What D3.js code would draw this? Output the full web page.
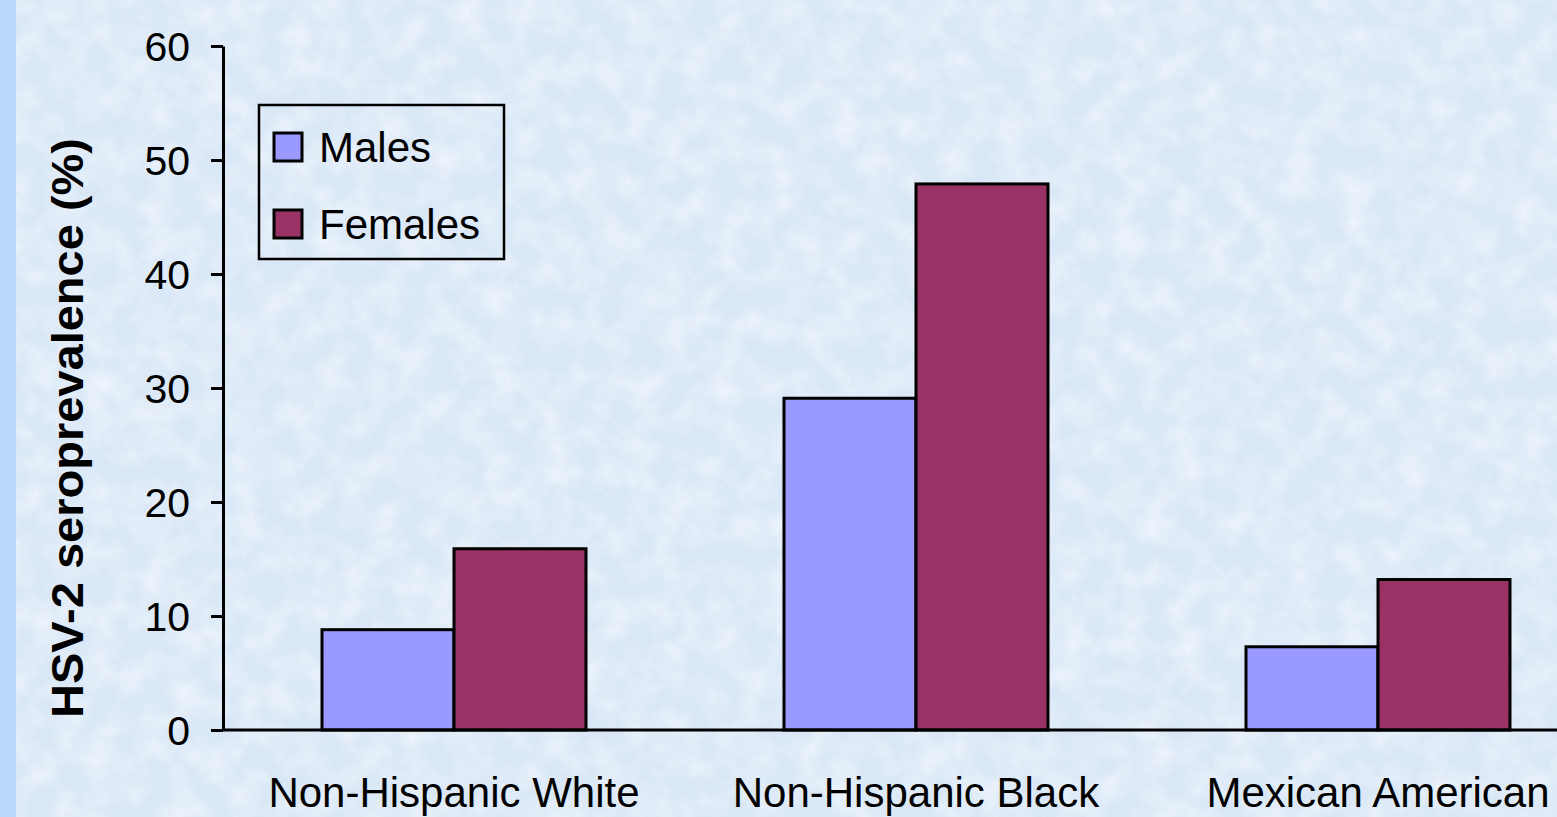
<!DOCTYPE html>
<html>
<head>
<meta charset="utf-8">
<script src="https://cdn.jsdelivr.net/npm/d3@7/dist/d3.min.js"></script>
<style>
  html, body { margin: 0; padding: 0; overflow: hidden; background: #dce9f6; }
  svg { display: block; font-family: "Liberation Sans", Arial, sans-serif; }
</style>
</head>
<body>
<svg id="chart" width="1557" height="817"></svg>
<script>
// HSV-2 seroprevalence by race/ethnicity and sex
const categories = ["Non-Hispanic White", "Non-Hispanic Black", "Mexican American"];
const seriesNames = ["Males", "Females"];
const males = [8.8, 29.1, 7.3];
const females = [15.9, 47.9, 13.2];
const yTicks = [0, 10, 20, 30, 40, 50, 60];
const yTitle = "HSV-2 seroprevalence (%)";

const colors = { Males: "#9999ff", Females: "#993366" };
const W = 1557, H = 817;
const svg = d3.select("#chart");

// textured pale-blue backdrop
const defs = svg.append("defs");
const f = defs.append("filter").attr("id", "paper")
  .attr("x", 0).attr("y", 0).attr("width", "100%").attr("height", "100%");
f.append("feTurbulence").attr("type", "fractalNoise")
  .attr("baseFrequency", "0.035").attr("numOctaves", 4).attr("seed", 7).attr("result", "n");
f.append("feColorMatrix").attr("in", "n").attr("type", "matrix")
  .attr("values", "0 0 0 0 0.93  0 0 0 0 0.96  0 0 0 0 1  1.6 0 0 0 -0.55");
svg.append("rect").attr("width", W).attr("height", H).attr("fill", "#d9e7f6");
svg.append("rect").attr("width", W).attr("height", H).attr("filter", "url(#paper)").attr("opacity", 0.75);
svg.append("rect").attr("x", 0).attr("y", 0).attr("width", 16).attr("height", H).attr("fill", "#b8d8fb");

// scales
const x = d3.scaleBand().domain(categories).range([223, 1609])
  .paddingInner(0.75 / 1.75).paddingOuter(0.375 / 1.75);
const xs = d3.scaleBand().domain(seriesNames).range([0, x.bandwidth()]);
const y = d3.scaleLinear().domain([0, 60]).range([730, 46]);

const rows = categories.map((c, i) => ({ cat: c, Males: males[i], Females: females[i] }));

// bars
const g = svg.append("g");
rows.forEach(r => {
  seriesNames.forEach(s => {
    g.append("rect")
      .attr("x", x(r.cat) + xs(s))
      .attr("y", y(r[s]))
      .attr("width", xs.bandwidth())
      .attr("height", y(0) - y(r[s]))
      .attr("fill", colors[s])
      .attr("stroke", "#000")
      .attr("stroke-width", 3);
  });
});

// y axis
const yAxis = d3.axisLeft(y).tickValues(yTicks).tickSize(12).tickSizeOuter(0).tickPadding(21);
const ya = svg.append("g").attr("transform", "translate(223,0)").call(yAxis);
ya.select(".domain").attr("stroke", "#000").attr("stroke-width", 3);
ya.selectAll(".tick line").attr("stroke", "#000").attr("stroke-width", 3);
ya.selectAll(".tick text").attr("font-size", 41).attr("fill", "#000")
  .attr("font-family", "Liberation Sans, Arial, sans-serif").attr("dy", "0.36em");

// x axis line along zero
svg.append("line").attr("x1", 223).attr("x2", W).attr("y1", y(0)).attr("y2", y(0))
  .attr("stroke", "#000").attr("stroke-width", 3);

// category labels
svg.append("g").selectAll("text").data(categories).join("text")
  .attr("x", d => x(d) + x.bandwidth() / 2)
  .attr("y", 807)
  .attr("text-anchor", "middle")
  .attr("font-size", 42)
  .attr("fill", "#000")
  .text(d => d);

// y title
svg.append("text")
  .attr("transform", "translate(83,428) rotate(-90)")
  .attr("text-anchor", "middle")
  .attr("font-size", 44)
  .attr("font-weight", "bold")
  .attr("textLength", 580)
  .attr("lengthAdjust", "spacingAndGlyphs")
  .attr("fill", "#000")
  .text(yTitle);

// legend
const lg = svg.append("g");
lg.append("rect").attr("x", 259).attr("y", 105).attr("width", 245).attr("height", 154)
  .attr("fill", "none").attr("stroke", "#000").attr("stroke-width", 2.5);
const ly = d3.scalePoint().domain(seriesNames).range([147, 224]);
seriesNames.forEach(s => {
  lg.append("rect").attr("x", 274).attr("y", ly(s) - 14).attr("width", 28).attr("height", 28)
    .attr("fill", colors[s]).attr("stroke", "#000").attr("stroke-width", 3);
  lg.append("text").attr("x", 319).attr("y", ly(s) + 15)
    .attr("font-size", 42).attr("fill", "#000").text(s);
});
</script>
</body>
</html>
